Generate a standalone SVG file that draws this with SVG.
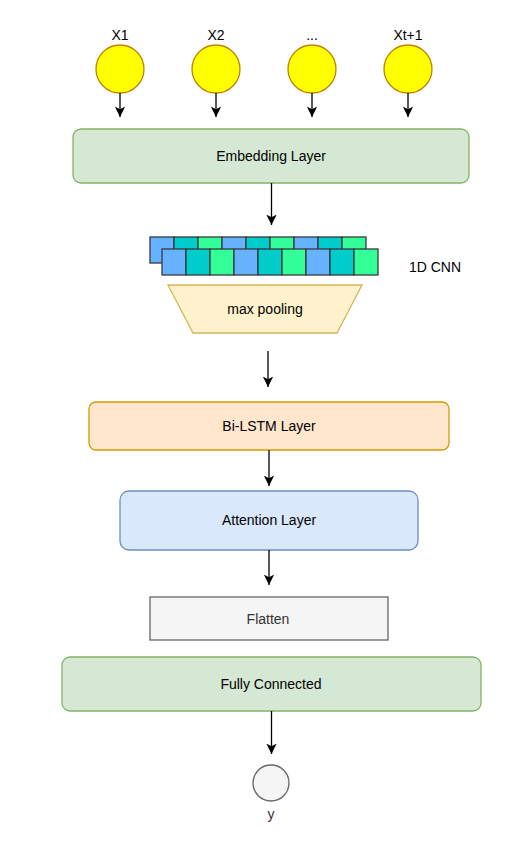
<svg xmlns="http://www.w3.org/2000/svg" width="528" height="851" viewBox="0 0 528 851">
<style>
text{font-family:"Liberation Sans",Arial,sans-serif;font-size:14px;fill:#000;text-anchor:middle}
.inp{fill:#ffff00;stroke:#c47f00;stroke-width:1.3}
.green{fill:#d5e8d4;stroke:#82b366;stroke-width:1.3}
.orange{fill:#ffe6cc;stroke:#d79b00;stroke-width:1.3}
.blue{fill:#dae8fc;stroke:#6c8ebf;stroke-width:1.3}
.gray{fill:#f5f5f5;stroke:#666666;stroke-width:1.3}
.pool{fill:#fff2cc;stroke:#d6b656;stroke-width:1.3}
.c1{fill:#66b2ff;stroke:#36393d;stroke-width:1.3}
.c2{fill:#00cccc;stroke:#36393d;stroke-width:1.3}
.c3{fill:#33ff99;stroke:#36393d;stroke-width:1.3}
.conn line{stroke:#000;stroke-width:1.3;marker-end:url(#arr)}
</style>
<defs>
<marker id="arr" markerUnits="userSpaceOnUse" markerWidth="11" markerHeight="11" viewBox="0 0 10 10" refX="9.5" refY="5" orient="auto">
<path d="M0,0.3 L9.5,5 L0,9.7 L2.5,5 Z" fill="#000"/>
</marker>
</defs>

<g id="x1"><circle class="inp" cx="120" cy="69" r="24"/><text x="120" y="39.5">X1</text></g>
<g id="x2"><circle class="inp" cx="216" cy="69" r="24"/><text x="216" y="39.5">X2</text></g>
<g id="xdots"><circle class="inp" cx="312" cy="69" r="24"/><text x="312" y="39.5">...</text></g>
<g id="xt1"><circle class="inp" cx="408" cy="69" r="24"/><text x="408" y="39.5">Xt+1</text></g>

<g id="embedding"><rect class="green" x="73" y="129" width="396" height="54" rx="8"/><text x="271" y="161">Embedding Layer</text></g>

<g id="cnn">
<rect class="c1" x="150" y="237" width="24" height="26"/>
<rect class="c2" x="174" y="237" width="24" height="26"/>
<rect class="c3" x="198" y="237" width="24" height="26"/>
<rect class="c1" x="222" y="237" width="24" height="26"/>
<rect class="c2" x="246" y="237" width="24" height="26"/>
<rect class="c3" x="270" y="237" width="24" height="26"/>
<rect class="c1" x="294" y="237" width="24" height="26"/>
<rect class="c2" x="318" y="237" width="24" height="26"/>
<rect class="c3" x="342" y="237" width="24" height="26"/>
<rect class="c1" x="162" y="249" width="24" height="26"/>
<rect class="c2" x="186" y="249" width="24" height="26"/>
<rect class="c3" x="210" y="249" width="24" height="26"/>
<rect class="c1" x="234" y="249" width="24" height="26"/>
<rect class="c2" x="258" y="249" width="24" height="26"/>
<rect class="c3" x="282" y="249" width="24" height="26"/>
<rect class="c1" x="306" y="249" width="24" height="26"/>
<rect class="c2" x="330" y="249" width="24" height="26"/>
<rect class="c3" x="354" y="249" width="24" height="26"/>
<text x="435" y="272">1D CNN</text>
</g>

<g id="maxpool"><polygon class="pool" points="168,285 362,285 337,333 193,333"/><text x="265" y="314">max pooling</text></g>

<g id="bilstm"><rect class="orange" x="89" y="402" width="360" height="48" rx="7"/><text x="269" y="431">Bi-LSTM Layer</text></g>

<g id="attention"><rect class="blue" x="120" y="491" width="298" height="59" rx="9"/><text x="269" y="525">Attention Layer</text></g>

<g id="flatten"><rect class="gray" x="150" y="597" width="238" height="43"/><text x="268" y="623.5" style="fill:#333333">Flatten</text></g>

<g id="fc"><rect class="green" x="62" y="657" width="419" height="54" rx="8"/><text x="271" y="689">Fully Connected</text></g>

<g id="y"><circle class="gray" cx="271" cy="783" r="18"/><text x="271" y="819" style="fill:#333333">y</text></g>

<g class="conn" id="connectors">
<line x1="120" y1="93" x2="120" y2="117"/>
<line x1="216" y1="93" x2="216" y2="117"/>
<line x1="312" y1="93" x2="312" y2="117"/>
<line x1="408" y1="93" x2="408" y2="117"/>
<line x1="271.5" y1="183" x2="271.5" y2="225"/>
<line x1="268" y1="351" x2="268" y2="387"/>
<line x1="269" y1="450" x2="269" y2="486"/>
<line x1="269" y1="550" x2="269" y2="585"/>
<line x1="271.5" y1="711" x2="271.5" y2="754"/>
</g>
</svg>
